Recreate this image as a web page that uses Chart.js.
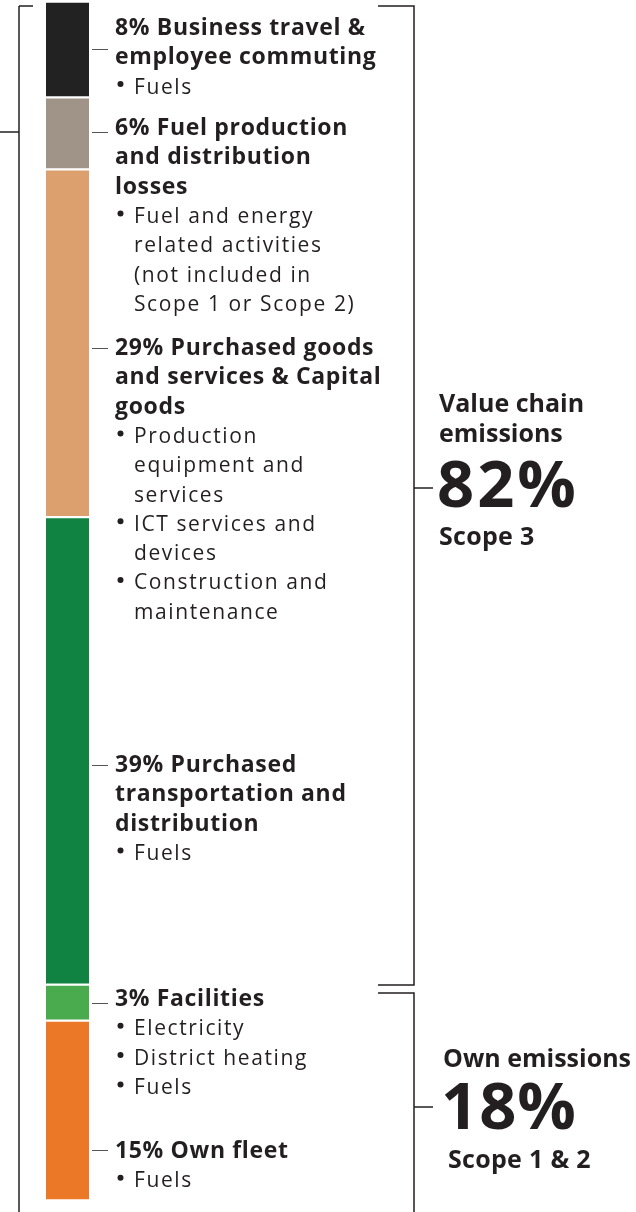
<!DOCTYPE html>
<html>
<head>
<meta charset="utf-8">
<script src="https://cdn.jsdelivr.net/npm/chart.js@4.4.0/dist/chart.umd.min.js"></script>
<style>
  html, body { margin: 0; padding: 0; background: #fff; }
  #wrap { width: 636px; height: 1212px; position: relative; }
</style>
</head>
<body>
<div id="wrap"><canvas id="emissions_chart"></canvas></div>
<script>
// data (top to bottom)
var categories = ["Emissions"];
var shares = [8, 6, 29, 39, 3, 15];
var headings = [
  "Business travel &\nemployee commuting",
  "Fuel production\nand distribution\nlosses",
  "Purchased goods\nand services & Capital\ngoods",
  "Purchased\ntransportation and\ndistribution",
  "Facilities",
  "Own fleet"
];
var bullets = [
  ["Fuels"],
  ["Fuel and energy\nrelated activities\n(not included in\nScope 1 or Scope 2)"],
  ["Production\nequipment and\nservices", "ICT services and\ndevices", "Construction and\nmaintenance"],
  ["Fuels"],
  ["Electricity", "District heating", "Fuels"],
  ["Fuels"]
];
var groupNames = ["Value chain\nemissions", "Own emissions"];
var groupScopes = ["Scope 3", "Scope 1 & 2"];
var groupMembers = [[0, 1, 2, 3], [4, 5]];

var barColors = ["#222222", "#a09388", "#dca06e", "#108241", "#4aaa4e", "#ea7827"];
var ink = "#231f20";
var FONT = "'Open Sans', sans-serif";

// layout of the labels (pixels)
var labelTop = [35, 135, 355, 772, 1006, 1158];   // baseline of first heading line
var tickY = [49, 132, 348, 765, 1003, 1150];
var LINE = 29.3;

var datasets = [];
for (var i = 0; i < shares.length; i++) {
  datasets.push({
    label: headings[i].replace(/\n/g, " "),
    data: [shares[i]],
    backgroundColor: barColors[i],
    borderColor: "#ffffff",
    borderWidth: {top: 1.5, bottom: 1.5, left: 0, right: 0},
    borderSkipped: false,
    barPercentage: 1,
    categoryPercentage: 1
  });
}

function line(ctx, x1, y1, x2, y2) {
  ctx.beginPath();
  ctx.moveTo(x1, y1);
  ctx.lineTo(x2, y2);
  ctx.stroke();
}

var annotate = {
  id: "annotate",
  afterDraw: function(chart) {
    var ctx = chart.ctx;
    var area = chart.chartArea;
    ctx.save();
    ctx.strokeStyle = ink;
    ctx.fillStyle = ink;
    ctx.textBaseline = "alphabetic";
    ctx.textAlign = "left";

    // segment labels
    for (var i = 0; i < shares.length; i++) {
      ctx.lineWidth = 1;
      ctx.strokeStyle = "#555";
      line(ctx, area.right + 3, tickY[i] + 0.5, area.right + 19, tickY[i] + 0.5);
      var y = labelTop[i];
      var head = (shares[i] + "% " + headings[i]).split("\n");
      ctx.font = "bold 23px " + FONT;
      ctx.letterSpacing = "0.65px";
      head.forEach(function(t) { ctx.fillText(t, 115, y); y += LINE; });
      ctx.font = "21px " + FONT;
      ctx.letterSpacing = "1.6px";
      bullets[i].forEach(function(b) {
        b.split("\n").forEach(function(t, k) {
          if (k === 0) {
            ctx.beginPath();
            ctx.arc(120.5, y - 9.5, 3, 0, Math.PI * 2);
            ctx.fill();
          }
          ctx.fillText(t, 134, y);
          y += LINE;
        });
      });
    }
    ctx.letterSpacing = "0px";
    ctx.strokeStyle = ink;

    // left bracket
    ctx.lineWidth = 1.5;
    line(ctx, 19, 6, 19, 1212);
    line(ctx, 19, 6, 33, 6);
    line(ctx, 0, 132, 19, 132);

    // right brackets
    var brackets = [[6, 985, 488], [993, 1230, 1107]];
    brackets.forEach(function(b) {
      ctx.beginPath();
      ctx.moveTo(378, b[0]);
      ctx.lineTo(414, b[0]);
      ctx.lineTo(414, b[1]);
      ctx.lineTo(378, b[1]);
      ctx.stroke();
      line(ctx, 414, b[2], 433, b[2]);
    });

    // group totals
    var gx = [439, 443];
    var nameY = [412, 1067];
    var bigY = [507, 1129];
    var scopeY = [545, 1168];
    var scopeX = [439, 448];
    var bigSpacing = ["3px", "1px"];
    for (var g = 0; g < groupNames.length; g++) {
      var total = 0;
      groupMembers[g].forEach(function(m) { total += shares[m]; });
      var yy = nameY[g];
      ctx.font = "bold 25px " + FONT;
      ctx.letterSpacing = "0px";
      groupNames[g].split("\n").forEach(function(t) { ctx.fillText(t, gx[g], yy); yy += 30; });
      ctx.font = "bold 65px " + FONT;
      ctx.letterSpacing = bigSpacing[g];
      ctx.fillText(total + "%", gx[g] - 2, bigY[g]);
      ctx.font = "bold 25px " + FONT;
      ctx.letterSpacing = "0.3px";
      ctx.fillText(groupScopes[g], scopeX[g], scopeY[g]);
    }
    ctx.restore();
  }
};

new Chart("emissions_chart", {
  type: "bar",
  data: {
    labels: categories,
    datasets: datasets
  },
  options: {
    responsive: true,
    maintainAspectRatio: false,
    animation: false,
    layout: { padding: { left: 46, right: 547, top: 1.5, bottom: 11.5 } },
    plugins: { legend: { display: false }, tooltip: { enabled: false } },
    scales: {
      x: { display: false, stacked: true },
      y: { display: false, stacked: true, reverse: true, min: 0, max: 100 }
    }
  },
  plugins: [annotate]
});
</script>
</body>
</html>
